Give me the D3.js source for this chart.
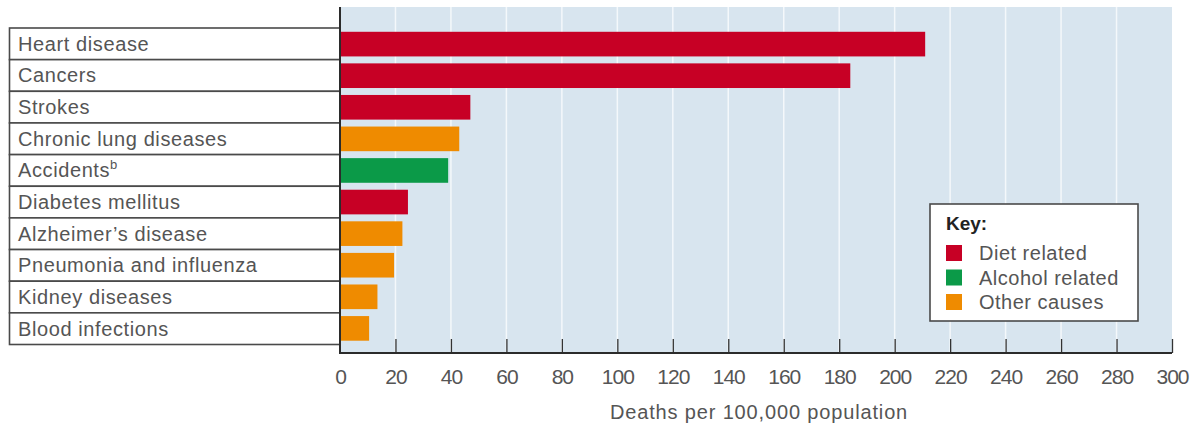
<!DOCTYPE html>
<html>
<head>
<meta charset="utf-8">
<script src="https://cdn.jsdelivr.net/npm/d3@7"></script>
<style>
	body { margin: 0; background: #fff; }
	svg { display: block; font-family: 'Liberation Sans', Arial, sans-serif; }
</style>
</head>
<body>
<svg id="chart" width="1192" height="427"></svg>
<script>
const causes = [
	'Heart disease',
	'Cancers',
	'Strokes',
	'Chronic lung diseases',
	'Accidents',
	'Diabetes mellitus',
	'Alzheimer\u2019s disease',
	'Pneumonia and influenza',
	'Kidney diseases',
	'Blood infections',
];
const deaths = [211, 184, 47, 43, 39, 24.5, 22.5, 19.5, 13.5, 10.5];
const groups = ['diet', 'diet', 'diet', 'other', 'alcohol', 'diet', 'other', 'other', 'other', 'other'];
const footnotes = ['', '', '', '', 'b', '', '', '', '', ''];
const keyIds = ['diet', 'alcohol', 'other'];
const keyLabels = ['Diet related', 'Alcohol related', 'Other causes'];
const xTicks = d3.range(0, 301, 20);

const colorOf = d3.scaleOrdinal()
	.domain(keyIds)
	.range(['#c70025', '#0b9a48', '#ef8b00']);

const rows = causes.map((name, i) => ({name, value: deaths[i], group: groups[i], sup: footnotes[i]}));

const svg = d3.select('#chart');
const plotLeft = 340, plotRight = 1172, plotTop = 7, plotBottom = 353;

const x = d3.scaleLinear().domain([0, 300]).range([plotLeft, plotRight]);
const y = d3.scaleBand().domain(causes).range([28, 344.5]).paddingInner(0.22).paddingOuter(0.12);
const rowY = d3.scaleBand().domain(causes).range([28, 344.5]);

// plot background + white grid lines
svg.append('rect')
	.attr('x', plotLeft).attr('y', plotTop)
	.attr('width', plotRight - plotLeft).attr('height', plotBottom - plotTop)
	.attr('fill', '#d8e5ef');

svg.append('g')
	.selectAll('line')
	.data(xTicks.filter(d => d > 0 && d < 300))
	.join('line')
	.attr('x1', d => x(d)).attr('x2', d => x(d))
	.attr('y1', plotTop).attr('y2', plotBottom)
	.attr('stroke', '#f4f8fb')
	.attr('stroke-width', 1.5);

// label boxes on the left
const labelRows = svg.append('g').selectAll('g').data(rows).join('g');
labelRows.append('rect')
	.attr('x', 9.5)
	.attr('y', d => rowY(d.name))
	.attr('width', plotLeft - 9.5)
	.attr('height', rowY.bandwidth())
	.attr('fill', '#fff')
	.attr('stroke', '#4a4a4a')
	.attr('stroke-width', 1.6);
const labelText = labelRows.append('text')
	.attr('x', 18)
	.attr('y', d => rowY(d.name) + rowY.bandwidth() / 2 + 7)
	.attr('font-size', 20)
	.attr('letter-spacing', 0.6)
	.attr('fill', '#555');
labelText.append('tspan').text(d => d.name);
labelText.append('tspan')
	.text(d => d.sup)
	.attr('font-size', 13)
	.attr('dy', -8);

// bars
svg.append('g')
	.selectAll('rect')
	.data(rows)
	.join('rect')
	.attr('x', x(0))
	.attr('y', d => y(d.name))
	.attr('width', d => x(d.value) - x(0))
	.attr('height', y.bandwidth())
	.attr('fill', d => colorOf(d.group));

// x axis with inward ticks
const xAxis = svg.append('g')
	.attr('transform', `translate(0,${plotBottom})`)
	.call(d3.axisBottom(x).tickValues(xTicks).tickSize(0).tickPadding(16));
xAxis.select('.domain').remove();
xAxis.selectAll('text')
	.attr('font-size', 21)
	.attr('letter-spacing', -1)
	.attr('fill', '#555');
xAxis.selectAll('.tick')
	.filter(d => d > 0)
	.append('line')
	.attr('y1', 0).attr('y2', -14)
	.attr('stroke', '#333')
	.attr('stroke-width', 1.3);

svg.append('line')
	.attr('x1', plotLeft).attr('x2', plotRight)
	.attr('y1', plotBottom).attr('y2', plotBottom)
	.attr('stroke', '#2b2b2b').attr('stroke-width', 2.2);
svg.append('line')
	.attr('x1', plotLeft).attr('x2', plotLeft)
	.attr('y1', plotTop).attr('y2', plotBottom + 1)
	.attr('stroke', '#2b2b2b').attr('stroke-width', 2);

svg.append('text')
	.attr('x', (plotLeft + plotRight) / 2 + 3)
	.attr('y', 419)
	.attr('text-anchor', 'middle')
	.attr('font-size', 20)
	.attr('letter-spacing', 0.85)
	.attr('fill', '#555')
	.text('Deaths per 100,000 population');

// key
const key = svg.append('g').attr('transform', 'translate(930,204)');
key.append('rect')
	.attr('width', 208).attr('height', 117)
	.attr('fill', '#fff')
	.attr('stroke', '#4a4a4a')
	.attr('stroke-width', 1.6);
key.append('text')
	.attr('x', 16).attr('y', 26)
	.attr('font-size', 19)
	.attr('font-weight', 'bold')
	.attr('fill', '#222')
	.text('Key:');
const keyItems = key.selectAll('g.item')
	.data(keyIds)
	.join('g')
	.attr('class', 'item')
	.attr('transform', (d, i) => `translate(16,${49 + i * 24.5})`);
keyItems.append('rect')
	.attr('width', 16).attr('height', 16)
	.attr('y', -8)
	.attr('fill', d => colorOf(d));
keyItems.append('text')
	.attr('x', 33).attr('y', 7)
	.attr('font-size', 20)
	.attr('letter-spacing', 0.5)
	.attr('fill', '#555')
	.text((d, i) => keyLabels[i]);
</script>
</body>
</html>
